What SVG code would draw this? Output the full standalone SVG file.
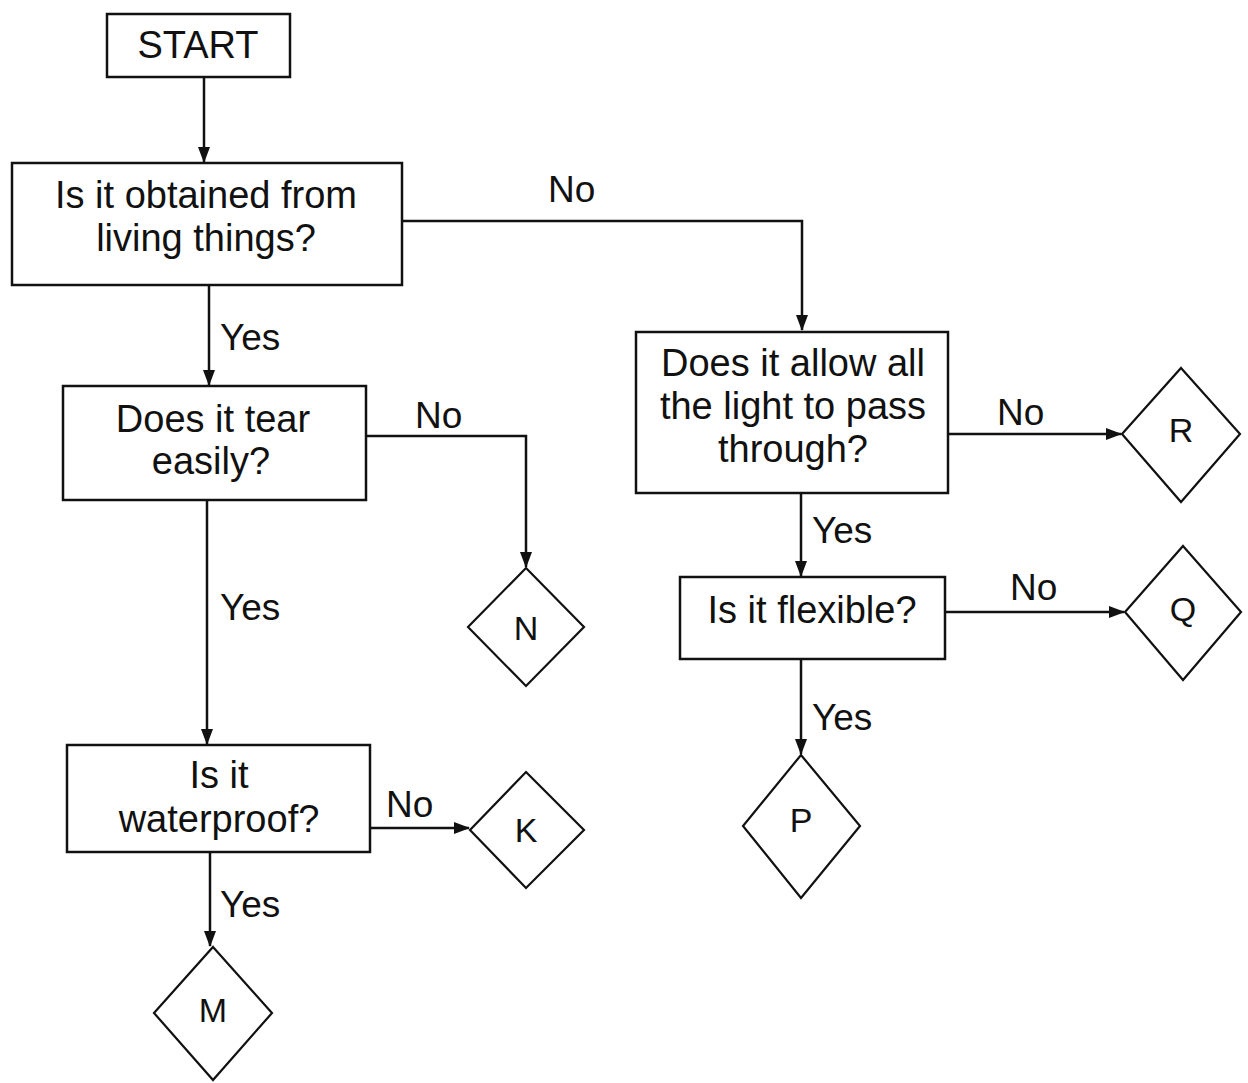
<svg xmlns="http://www.w3.org/2000/svg" width="1248" height="1083" viewBox="0 0 1248 1083">
<defs>
<marker id="ah" markerWidth="16" markerHeight="14" refX="15" refY="7" orient="auto" markerUnits="userSpaceOnUse">
<path d="M0,1 L16,7 L0,13 Z" fill="#111"/>
</marker>
<style>
.box{fill:#fff;stroke:#111;stroke-width:2.5}
.dia{fill:#fff;stroke:#111;stroke-width:2.2}
.t{font-family:"Liberation Sans",Arial,sans-serif;font-size:38px;fill:#111;text-anchor:middle}
.l{font-family:"Liberation Sans",Arial,sans-serif;font-size:37px;fill:#111}
.d{font-family:"Liberation Sans",Arial,sans-serif;font-size:34px;fill:#111;text-anchor:middle}
.c{fill:none;stroke:#111;stroke-width:2.5;marker-end:url(#ah)}
</style>
</defs>
<rect width="1248" height="1083" fill="#fff"/>
<g id="connectors">
<path class="c" d="M402,221 H802 V330"/>
<path class="c" d="M204,77 V162"/>
<path class="c" d="M209,285 V385"/>
<path class="c" d="M366,436 H526 V567"/>
<path class="c" d="M207,500 V744"/>
<path class="c" d="M370,828 H469"/>
<path class="c" d="M210,852 V946"/>
<path class="c" d="M948,434 H1121"/>
<path class="c" d="M801,493 V576"/>
<path class="c" d="M945,612 H1124"/>
<path class="c" d="M801,659 V754"/>
<text class="l" x="548" y="202">No</text>
<text class="l" x="220" y="350">Yes</text>
<text class="l" x="415" y="428">No</text>
<text class="l" x="220" y="620">Yes</text>
<text class="l" x="386" y="817">No</text>
<text class="l" x="220" y="917">Yes</text>
<text class="l" x="997" y="425">No</text>
<text class="l" x="812" y="543">Yes</text>
<text class="l" x="1010" y="600">No</text>
<text class="l" x="812" y="730">Yes</text>
</g>
<g id="start"><rect class="box" x="107" y="14" width="183" height="63"/><text class="t" x="198" y="58">START</text></g>
<g id="q1"><rect class="box" x="12" y="163" width="390" height="122"/><text class="t" x="206" y="208">Is it obtained from</text><text class="t" x="206" y="251">living things?</text></g>
<g id="q2"><rect class="box" x="63" y="386" width="303" height="114"/><text class="t" x="213" y="432">Does it tear</text><text class="t" x="211" y="474">easily?</text></g>
<g id="q3"><rect class="box" x="67" y="745" width="303" height="107"/><text class="t" x="219" y="788">Is it</text><text class="t" x="219" y="832">waterproof?</text></g>
<g id="q4"><rect class="box" x="636" y="332" width="312" height="161"/><text class="t" x="793" y="376">Does it allow all</text><text class="t" x="793" y="419">the light to pass</text><text class="t" x="793" y="462">through?</text></g>
<g id="q5"><rect class="box" x="680" y="577" width="265" height="82"/><text class="t" x="812" y="623">Is it flexible?</text></g>
<g id="N"><polygon class="dia" points="526,568 584,627 526,686 468,627"/><text class="d" x="526" y="640">N</text></g>
<g id="K"><polygon class="dia" points="526,772 584,830 526,888 470,830"/><text class="d" x="526" y="842">K</text></g>
<g id="M"><polygon class="dia" points="213,947 272,1013 213,1080 154,1013"/><text class="d" x="213" y="1022">M</text></g>
<g id="R"><polygon class="dia" points="1181,368 1240,434 1181,502 1122,434"/><text class="d" x="1181" y="442">R</text></g>
<g id="Q"><polygon class="dia" points="1183,546 1241,612 1183,680 1125,612"/><text class="d" x="1183" y="621">Q</text></g>
<g id="P"><polygon class="dia" points="801,755 860,826 801,898 743,826"/><text class="d" x="801" y="832">P</text></g>
</svg>
